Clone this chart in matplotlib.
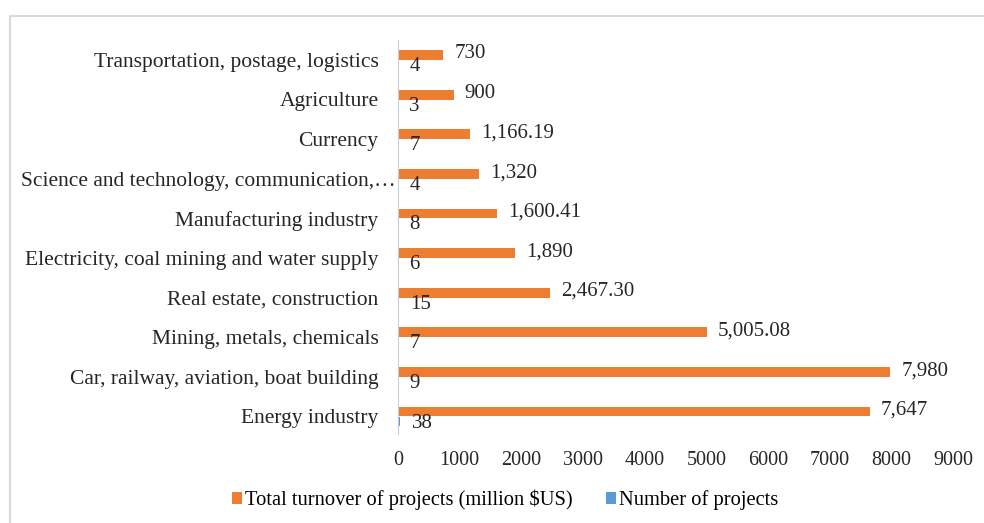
import matplotlib.pyplot as plt
from matplotlib.patches import Rectangle
from matplotlib.transforms import ScaledTranslation
import numpy as np

plt.rcParams['font.family'] = ['Liberation Serif', 'DejaVu Serif']

# data, bottom to top
sectors = ['Energy industry', 'Car, railway, aviation, boat building', 'Mining, metals, chemicals',
           'Real estate, construction', 'Electricity, coal mining and water supply', 'Manufacturing industry',
           'Science and technology, communication,\u2026', 'Currency', 'Agriculture',
           'Transportation, postage, logistics']
turnover = [7647, 7980, 5005.08, 2467.30, 1890, 1600.41, 1320, 1166.19, 900, 730]
turnover_labels = ['7,647', '7,980', '5,005.08', '2,467.30', '1,890', '1,600.41', '1,320', '1,166.19', '900', '730']
n_projects = [38, 9, 7, 15, 6, 8, 4, 7, 3, 4]

orange = '#ED7D31'
blue = '#5B9BD5'

fig = plt.figure(figsize=(9.84, 5.23), dpi=100)
ax = fig.add_axes([0.4045, 0.170, 0.564, 0.7535])

# light gray frame around the chart
fig.patches.append(Rectangle((0.010, -0.05), 1.1, 1 - 16 / 523 + 0.05, transform=fig.transFigure,
                             fill=False, edgecolor='#d9d9d9', linewidth=1.5))

y = np.arange(len(sectors))
h = 0.245
ax.barh(y + 0.12, turnover, height=h, color=orange, label='Total turnover of projects (million $US)')
ax.barh(y - 0.13, n_projects, height=h, color=blue, label='Number of projects')

for yi, v, lab in zip(y, turnover, turnover_labels):
    ax.annotate(lab, (v, yi + 0.15), xytext=(8, 0), textcoords='offset points',
                va='center', ha='left', fontsize=15, color='#262626')
for yi, v in zip(y, n_projects):
    ax.annotate(str(v), (v, yi - 0.17), xytext=(8, 0), textcoords='offset points',
                va='center', ha='left', fontsize=15, color='#262626')

ax.set_xlim(0, 9000)
ax.set_ylim(-0.45, 9.5)
ax.set_xticks(range(0, 9001, 1000))
ax.set_yticks(y)
ax.set_yticklabels(sectors, fontsize=15.5)
ax.tick_params(axis='both', length=0, colors='#262626')
ax.tick_params(axis='x', labelsize=14.5, pad=12)
ax.tick_params(axis='y', pad=14)
for s in ['top', 'right', 'bottom']:
    ax.spines[s].set_visible(False)
ax.spines['left'].set_color('#c5cdd8')

# the truncated label runs a bit closer to the axis in the original
lab = ax.get_yticklabels()[6]
lab.set_transform(lab.get_transform() + ScaledTranslation(0.17, 0, fig.dpi_scale_trans))

ax.legend(loc='center', bbox_to_anchor=(0.193, -0.1675), ncol=2, frameon=False, fontsize=14.8,
          handlelength=0.5, handleheight=0.5, handletextpad=0.15, columnspacing=1.6)

fig.savefig('out.png', dpi=100)
